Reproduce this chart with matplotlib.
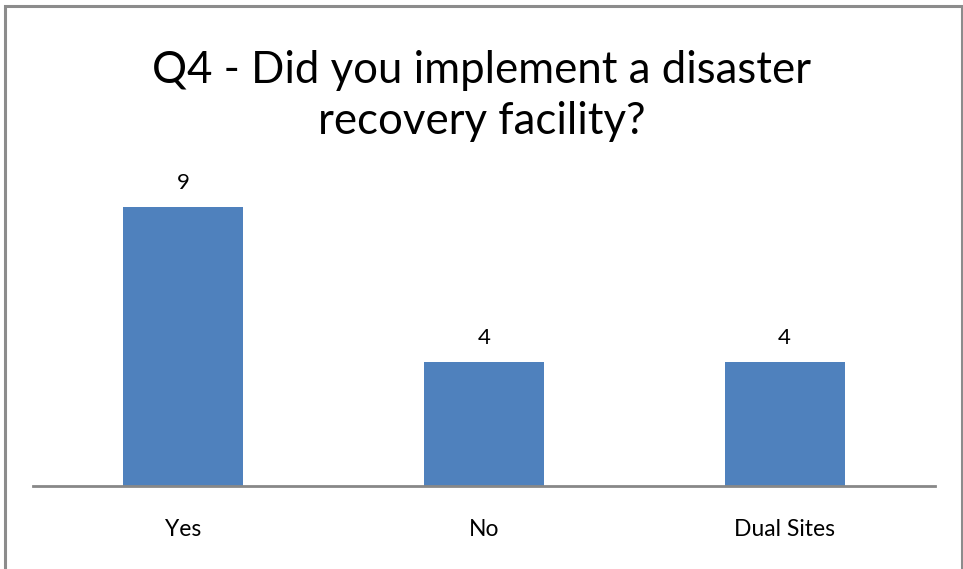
import matplotlib.pyplot as plt
from matplotlib.patches import Rectangle

categories = ['Yes', 'No', 'Dual Sites']
counts = [9, 4, 4]

fig = plt.figure(figsize=(9.63, 5.69), dpi=100)
fig.patch.set_facecolor('white')

# outer chart frame (open at the bottom edge)
fig.add_artist(Rectangle((4.5 / 963, -0.05), 957 / 963, 1 - 5.5 / 569 + 0.05,
                         transform=fig.transFigure, fill=False,
                         edgecolor='#8c8c8c', linewidth=2.2))

ax = fig.add_axes([33 / 963, 1 - 486 / 569, 902 / 963, 310 / 569])
x = range(len(categories))
bars = ax.bar(x, counts, width=0.4, color='#4F81BD')
ax.set_xlim(-0.5, len(categories) - 0.5)
ax.set_ylim(0, 10)

for rect, v in zip(bars, counts):
    ax.annotate(str(v), (rect.get_x() + rect.get_width() / 2, v),
                xytext=(0, 10), textcoords='offset points',
                ha='center', va='bottom', fontsize=16, family='Lato')

for side in ['top', 'right', 'left']:
    ax.spines[side].set_visible(False)
ax.spines['bottom'].set_color('#888888')
ax.spines['bottom'].set_linewidth(2)
ax.set_yticks([])
ax.set_xticks(list(x))
ax.set_xticklabels(categories, fontsize=16.5, family='Lato')
ax.tick_params(axis='x', length=0, pad=24)

fig.text(0.5, 1 - 96 / 569, 'Q4 - Did you implement a disaster\nrecovery facility?',
         ha='center', va='center', fontsize=31.5, family='Lato',
         linespacing=1.32)

fig.savefig('out.png', dpi=100)
